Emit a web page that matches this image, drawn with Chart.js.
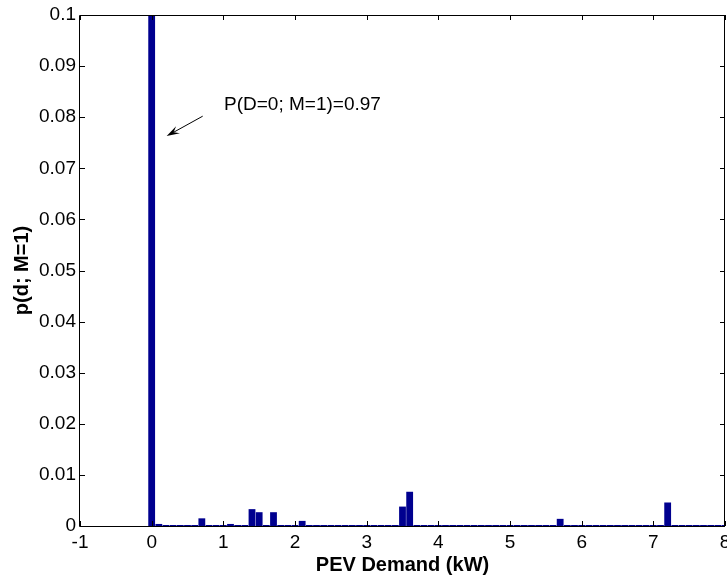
<!DOCTYPE html>
<html>
<head>
<meta charset="utf-8">
<script src="https://cdn.jsdelivr.net/npm/chart.js@4/dist/chart.umd.min.js"></script>
<style>
html,body{margin:0;padding:0;background:#fff;}
#wrap{width:727px;height:577px;}
</style>
</head>
<body>
<div id="wrap"><canvas id="c" width="727" height="577"></canvas></div>
<script>
// Bin centres (kW)
const demandBins = [0,0.1,0.2,0.3,0.4,0.5,0.6,0.7,0.8,0.9,1.0,1.1,1.2,1.3,1.4,1.5,1.6,1.7,1.8,1.9,
  2.0,2.1,2.2,2.3,2.4,2.5,2.6,2.7,2.8,2.9,3.0,3.1,3.2,3.3,3.4,3.5,3.6,3.7,3.8,3.9,
  4.0,4.1,4.2,4.3,4.4,4.5,4.6,4.7,4.8,4.9,5.0,5.1,5.2,5.3,5.4,5.5,5.6,5.7,5.8,5.9,
  6.0,6.1,6.2,6.3,6.4,6.5,6.6,6.7,6.8,6.9,7.0,7.1,7.2,7.3,7.4,7.5,7.6,7.7,7.8,7.9,8.0];
// Probability p(d; M=1)
const probValues = [0.97,0.0004,0.0002,0.0002,0.0002,0.0002,0.0002,0.0015,0.0002,0.0002,
  0.0002,0.0004,0.0002,0.0002,0.0033,0.0027,0.0002,0.0027,0.0002,0.0002,
  0.0002,0.0010,0.0002,0.0002,0.0002,0.0002,0.0002,0.0002,0.0002,0.0002,
  0.0002,0.0002,0.0002,0.0002,0.0002,0.0038,0.0067,0.0002,0.0002,0.0002,
  0.0002,0.0002,0.0002,0.0002,0.0002,0.0002,0.0002,0.0002,0.0002,0.0002,
  0.0002,0.0002,0.0002,0.0002,0.0002,0.0002,0.0002,0.0014,0.0002,0.0002,
  0.0002,0.0002,0.0002,0.0002,0.0002,0.0002,0.0002,0.0002,0.0002,0.0002,
  0.0002,0.0002,0.0046,0.0002,0.0002,0.0002,0.0002,0.0002,0.0002,0.0002,0.0002];
const xTickValues = [-1,0,1,2,3,4,5,6,7,8];
const xTickLabels = ['-1','0','1','2','3','4','5','6','7','8'];
const yTickValues = [0,0.01,0.02,0.03,0.04,0.05,0.06,0.07,0.08,0.09,0.1];
const yTickLabels = ['0','0.01','0.02','0.03','0.04','0.05','0.06','0.07','0.08','0.09','0.1'];
const annotationText = 'P(D=0; M=1)=0.97';
const annotationPos = {x: 1.01, y: 0.0814};
const arrowFrom = {x: 0.712, y: 0.0802};
const arrowTo = {x: 0.209, y: 0.0763};

const FONT = "'Liberation Sans', Arial, Helvetica, sans-serif";

const framePlugin = {
  id: 'frame',
  afterDatasetsDraw(chart) {
    const ctx = chart.ctx, a = chart.chartArea;
    const xs = chart.scales.x, ys = chart.scales.y;
    ctx.save();
    ctx.strokeStyle = '#000';
    ctx.lineWidth = 1;
    ctx.beginPath();
    ctx.rect(Math.round(a.left) - 0.5, Math.round(a.top) + 0.5, Math.round(a.right - a.left), Math.round(a.bottom - a.top));
    ctx.stroke();
    const tl = 5;
    ctx.beginPath();
    xTickValues.forEach(v => {
      const px = Math.round(xs.getPixelForValue(v)) + 0.5;
      ctx.moveTo(px, a.bottom); ctx.lineTo(px, a.bottom - tl);
      ctx.moveTo(px, a.top); ctx.lineTo(px, a.top + tl);
    });
    yTickValues.forEach(v => {
      const py = Math.round(ys.getPixelForValue(v)) + 0.5;
      ctx.moveTo(a.left, py); ctx.lineTo(a.left + tl, py);
      ctx.moveTo(a.right, py); ctx.lineTo(a.right - tl, py);
    });
    ctx.stroke();

    // annotation
    ctx.fillStyle = '#000';
    ctx.font = '19px ' + FONT;
    ctx.textAlign = 'left';
    ctx.textBaseline = 'alphabetic';
    ctx.fillText(annotationText, xs.getPixelForValue(annotationPos.x), ys.getPixelForValue(annotationPos.y));
    const x1 = xs.getPixelForValue(arrowFrom.x), y1 = ys.getPixelForValue(arrowFrom.y);
    const x2 = xs.getPixelForValue(arrowTo.x), y2 = ys.getPixelForValue(arrowTo.y);
    const ang = Math.atan2(y2 - y1, x2 - x1);
    const hl = 11, hw = 4;
    const bx = x2 - hl * Math.cos(ang), by = y2 - hl * Math.sin(ang);
    ctx.beginPath();
    ctx.moveTo(x1, y1); ctx.lineTo(bx + 3*Math.cos(ang), by + 3*Math.sin(ang));
    ctx.stroke();
    ctx.beginPath();
    ctx.moveTo(x2, y2);
    ctx.lineTo(bx - hw * Math.sin(ang) - 2*Math.cos(ang), by + hw * Math.cos(ang) - 2*Math.sin(ang));
    ctx.lineTo(bx + 3*Math.cos(ang), by + 3*Math.sin(ang));
    ctx.lineTo(bx + hw * Math.sin(ang) - 2*Math.cos(ang), by - hw * Math.cos(ang) - 2*Math.sin(ang));
    ctx.closePath();
    ctx.fill();
    ctx.restore();
  }
};

new Chart(document.getElementById('c'), {
  type: 'bar',
  data: {
    datasets: [{
      data: demandBins.map((x, i) => ({x: x, y: probValues[i]})),
      backgroundColor: '#00008F',
      borderColor: '#000070',
      borderWidth: 0,
      barPercentage: 0.95,
      categoryPercentage: 1.0
    }]
  },
  options: {
    responsive: false,
    animation: false,
    devicePixelRatio: 1,
    layout: {padding: {top: 15, right: 2, left: 0, bottom: 0}},
    plugins: {legend: {display: false}, tooltip: {enabled: false}},
    scales: {
      x: {
        type: 'linear',
        min: -1, max: 8,
        offset: false,
        grid: {display: false, drawTicks: false},
        border: {display: false},
        afterBuildTicks: s => { s.ticks = xTickValues.map(v => ({value: v})); },
        afterFit: s => { s.height = 51; s.paddingLeft = 0; s.paddingRight = 0; },
        ticks: {
          autoSkip: false, maxRotation: 0, padding: 5, color: '#000',
          font: {family: FONT, size: 19},
          callback: (v, i) => xTickLabels[i]
        },
        title: {display: true, text: 'PEV Demand (kW)', color: '#000',
          font: {family: FONT, size: 20, weight: 'bold'}, padding: {top: 0, bottom: 0}}
      },
      y: {
        min: 0, max: 0.1,
        grid: {display: false, drawTicks: false},
        border: {display: false},
        afterBuildTicks: s => { s.ticks = yTickValues.map(v => ({value: v})); },
        afterFit: s => { s.width = 80; s.paddingTop = 0; s.paddingBottom = 0; },
        ticks: {
          autoSkip: false, padding: 4, color: '#000',
          font: {family: FONT, size: 19},
          callback: (v, i) => yTickLabels[i]
        },
        title: {display: true, text: 'p(d; M=1)', color: '#000',
          font: {family: FONT, size: 20, weight: 'bold'}, padding: {top: 10, bottom: 0}}
      }
    }
  },
  plugins: [framePlugin]
});
</script>
</body>
</html>
